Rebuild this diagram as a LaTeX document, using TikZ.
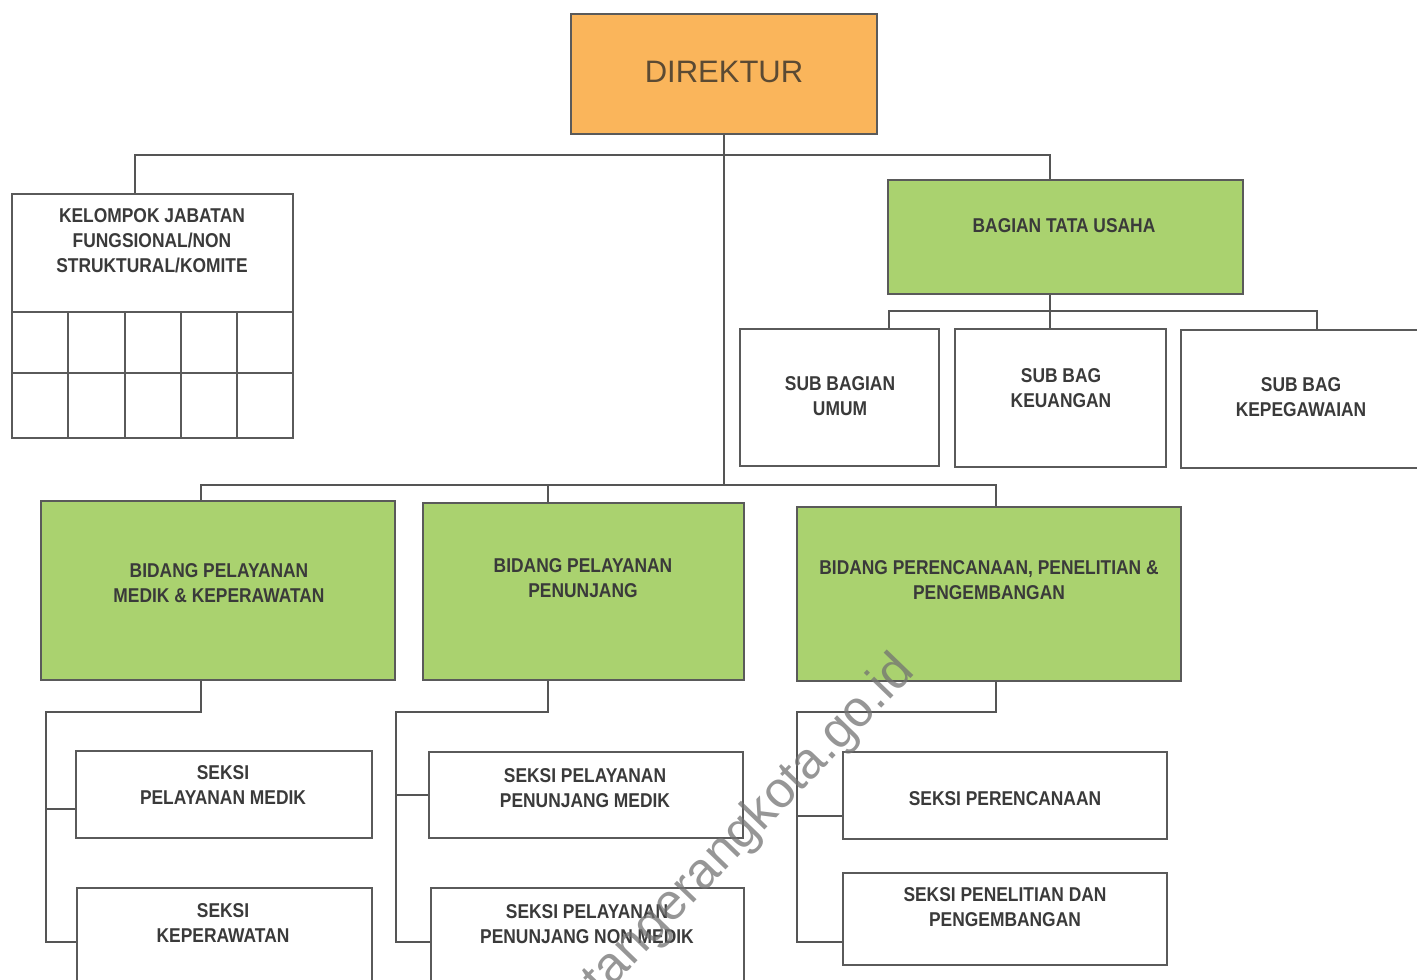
\documentclass[tikz,border=0pt]{standalone}
\usepackage{fontspec}
\setmainfont{Liberation Sans}
\newfontfamily\lblfont{Liberation Sans}[FakeStretch=0.87]
\definecolor{linegray}{HTML}{555555}
\definecolor{boxgray}{HTML}{5A5A5A}
\definecolor{textgray}{HTML}{3A3A3A}
\definecolor{greenfill}{HTML}{AAD26F}
\definecolor{orangefill}{HTML}{FAB55B}
\definecolor{dirtext}{HTML}{5B4A33}
\newcommand{\orgbox}[6][wbox]{%
  \node[#1, minimum width={(#5-#3)*0.5pt}, minimum height={(#6-#4)*0.5pt}]
    (#2) at ({(#3+#5)/2},{(#4+#6)/2}) {};}
\begin{document}
\begin{tikzpicture}[x=0.5pt,y=-0.5pt,
  wbox/.style={draw=boxgray, line width=1pt, fill=white, inner sep=0pt, rectangle},
  gbox/.style={wbox, fill=greenfill},
  obox/.style={wbox, fill=orangefill},
  conn/.style={draw=linegray, line width=1pt},
  lbl/.style={font=\lblfont\bfseries\fontsize{10}{12.5}\selectfont, text=textgray, align=center, inner sep=0pt},
  dirlbl/.style={font=\fontsize{15.5}{18}\selectfont, text=dirtext, inner sep=0pt},
  wmark/.style={font=\fontsize{25.5}{28}\selectfont, text=black!55, opacity=0.75, inner sep=0pt}]
\useasboundingbox (0,0) rectangle (1417,979);
\clip (0,0) rectangle (1417,979);
\fill[white] (0,0) rectangle (1417,979);

% ---------- boxes ----------
\orgbox[obox]{dir}{571}{14}{877}{134}
\orgbox{kel}{12}{194}{293}{438}
\orgbox[gbox]{btu}{888}{180}{1243}{294}
\orgbox{sbu}{740}{329}{939}{466}
\orgbox{sbk}{955}{329}{1166}{467}
\orgbox{sbp}{1181}{330}{1430}{468}
\orgbox[gbox]{b1}{41}{501}{395}{680}
\orgbox[gbox]{b2}{423}{503}{744}{680}
\orgbox[gbox]{b3}{797}{507}{1181}{681}
\orgbox{s11}{76}{751}{372}{838}
\orgbox{s12}{77}{888}{372}{990}
\orgbox{s21}{429}{752}{743}{838}
\orgbox{s22}{431}{888}{744}{990}
\orgbox{s31}{843}{752}{1167}{839}
\orgbox{s32}{843}{873}{1167}{965}

% grid inside the kelompok box
\draw[boxgray, line width=1pt] (12,312) -- (293,312) (12,373) -- (293,373);
\foreach \gx in {68,125,181,237} \draw[boxgray, line width=1pt] (\gx,312) -- (\gx,438);

% ---------- texts ----------
\node[dirlbl] (tdir) at (724,72) {DIREKTUR};
\node[lbl] (tkel) at (152,241) {KELOMPOK JABATAN\\FUNGSIONAL/NON\\STRUKTURAL/KOMITE};
\node[lbl] (tbtu) at (1064,226) {BAGIAN TATA USAHA};
\node[lbl] (tsbu) at (840,396) {SUB BAGIAN\\UMUM};
\node[lbl] (tsbk) at (1061,388) {SUB BAG\\KEUANGAN};
\node[lbl] (tsbp) at (1301,397) {SUB BAG\\KEPEGAWAIAN};
\node[lbl] (tb1) at (219,583) {BIDANG PELAYANAN\\MEDIK \& KEPERAWATAN};
\node[lbl] (tb2) at (583,578) {BIDANG PELAYANAN\\PENUNJANG};
\node[lbl] (tb3) at (989,580) {BIDANG PERENCANAAN, PENELITIAN \&\\PENGEMBANGAN};
\node[lbl] (ts11) at (223,785) {SEKSI\\PELAYANAN MEDIK};
\node[lbl] (ts12) at (223,923) {SEKSI\\KEPERAWATAN};
\node[lbl] (ts21) at (585,788) {SEKSI PELAYANAN\\PENUNJANG MEDIK};
\node[lbl] (ts22) at (587,924) {SEKSI PELAYANAN\\PENUNJANG NON MEDIK};
\node[lbl] (ts31) at (1005,799) {SEKSI PERENCANAAN};
\node[lbl] (ts32) at (1005,907) {SEKSI PENELITIAN DAN\\PENGEMBANGAN};

% ---------- junction coordinates ----------
\coordinate (tl) at (0,155);
\coordinate (bl) at (0,485);
\coordinate (sl) at (0,311);
\coordinate (ll) at (0,712);
\coordinate (e1) at (0,942);
\coordinate (kd) at (135,0);
\coordinate (bd) at (1050,0);
\coordinate (ud) at (889,0);
\coordinate (pd) at (1317,0);
\coordinate (d1) at (201,0);
\coordinate (d2) at (548,0);
\coordinate (d3) at (996,0);
\coordinate (r1) at (46,0);
\coordinate (r2) at (396,0);
\coordinate (r3) at (797,0);
\coordinate (m1) at (0,809);
\coordinate (m3) at (0,816);

% ---------- connectors ----------
\draw[conn] (dir.south) -- (dir.south |- bl);
\draw[conn] (kd |- kel.north) -- (kd |- tl) -- (bd |- tl) -- (bd |- btu.north);
\draw[conn] (bd |- btu.south) -- (bd |- sbk.north);
\draw[conn] (ud |- sbu.north) -- (ud |- sl) -- (pd |- sl) -- (pd |- sbp.north);
\draw[conn] (d1 |- b1.north) -- (d1 |- bl) -- (d3 |- bl) -- (d3 |- b3.north);
\draw[conn] (d2 |- bl) -- (d2 |- b2.north);
% bidang 1
\draw[conn] (d1 |- b1.south) -- (d1 |- ll) -- (r1 |- ll) -- (r1 |- e1) -- (s12.west |- e1);
\draw[conn] (r1 |- m1) -- (s11.west |- m1);
% bidang 2
\draw[conn] (d2 |- b2.south) -- (d2 |- ll) -- (r2 |- ll) -- (r2 |- e1) -- (s22.west |- e1);
\draw[conn] (r2 |- s21.west) -- (s21.west);
% bidang 3
\draw[conn] (d3 |- b3.south) -- (d3 |- ll) -- (r3 |- ll) -- (r3 |- e1) -- (s32.west |- e1);
\draw[conn] (r3 |- m3) -- (s31.west |- m3);

% ---------- watermark ----------
\node[wmark, rotate=46] (wm) at (750,826) {tangerangkota.go.id};
\end{tikzpicture}
\end{document}
